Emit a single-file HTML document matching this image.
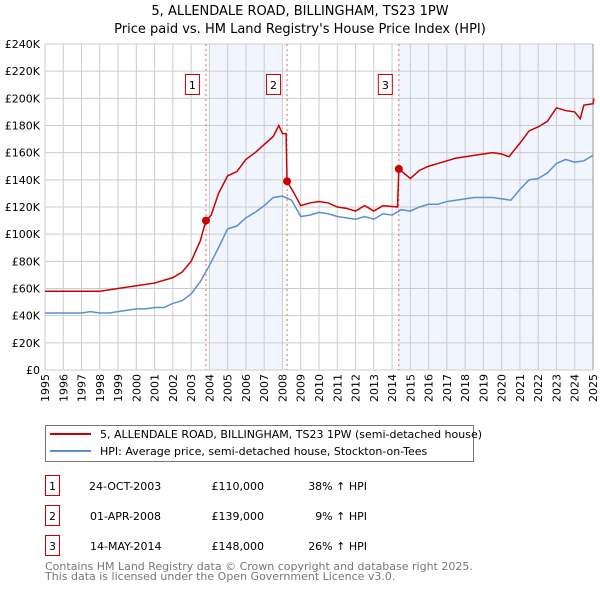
<!DOCTYPE html>
<html><head><meta charset="utf-8"><style>
body{margin:0;background:#fff;font-family:"DejaVu Sans","Liberation Sans",sans-serif;}
svg{display:block}
</style></head><body>
<svg width="600" height="590" xmlns="http://www.w3.org/2000/svg" font-family="DejaVu Sans, Liberation Sans, sans-serif">
<text x="300" y="15" text-anchor="middle" font-size="13">5, ALLENDALE ROAD, BILLINGHAM, TS23 1PW</text>
<text x="300" y="33" text-anchor="middle" font-size="13">Price paid vs. HM Land Registry's House Price Index (HPI)</text>
<g id="plot"></g>
<g>
<rect x="45.5" y="425.5" width="428" height="36" fill="#fff" stroke="#777"/>
<line x1="50" y1="434" x2="91" y2="434" stroke="#cc0000" stroke-width="2"/>
<text x="100" y="438" font-size="11">5, ALLENDALE ROAD, BILLINGHAM, TS23 1PW (semi-detached house)</text>
<line x1="50" y1="451" x2="91" y2="451" stroke="#5b8fd4" stroke-width="2"/>
<text x="100" y="455" font-size="11">HPI: Average price, semi-detached house, Stockton-on-Tees</text>
</g>
<g font-size="11">
<rect x="45.5" y="475.5" width="14" height="20" fill="#fff" stroke="#cc0000"/><text x="52.5" y="490" text-anchor="middle">1</text>
<text x="89" y="490">24-OCT-2003</text><text x="264" y="490" text-anchor="end">£110,000</text><text x="367" y="490" text-anchor="end">38% ↑ HPI</text>
<rect x="45.5" y="505.5" width="14" height="20" fill="#fff" stroke="#cc0000"/><text x="52.5" y="520" text-anchor="middle">2</text>
<text x="90" y="520">01-APR-2008</text><text x="264" y="520" text-anchor="end">£139,000</text><text x="367" y="520" text-anchor="end">9% ↑ HPI</text>
<rect x="45.5" y="535.5" width="14" height="20" fill="#fff" stroke="#cc0000"/><text x="52.5" y="550" text-anchor="middle">3</text>
<text x="90" y="550">14-MAY-2014</text><text x="264" y="550" text-anchor="end">£148,000</text><text x="367" y="550" text-anchor="end">26% ↑ HPI</text>
</g>
<text x="45" y="570" font-size="11" fill="#777">Contains HM Land Registry data © Crown copyright and database right 2025.</text>
<text x="45" y="580" font-size="11" fill="#777">This data is licensed under the Open Government Licence v3.0.</text>
</svg>
<script>
const yTicks=[0,20,40,60,80,100,120,140,160,180,200,220,240];
const years=[1995,1996,1997,1998,1999,2000,2001,2002,2003,2004,2005,2006,2007,2008,2009,2010,2011,2012,2013,2014,2015,2016,2017,2018,2019,2020,2021,2022,2023,2024,2025];
const hpiT=[1995,1995.5,1996,1996.5,1997,1997.5,1998,1998.5,1999,1999.5,2000,2000.5,2001,2001.5,2002,2002.5,2003,2003.5,2004,2004.5,2005,2005.5,2006,2006.5,2007,2007.5,2008,2008.5,2009,2009.5,2010,2010.5,2011,2011.5,2012,2012.5,2013,2013.5,2014,2014.5,2015,2015.5,2016,2016.5,2017,2017.5,2018,2018.5,2019,2019.5,2020,2020.5,2021,2021.5,2022,2022.5,2023,2023.5,2024,2024.5,2025];
const hpiV=[42,42,42,42,42,43,42,42,43,44,45,45,46,46,49,51,56,65,77,90,104,106,112,116,121,127,128,125,113,114,116,115,113,112,111,113,111,115,114,118,117,120,122,122,124,125,126,127,127,127,126,125,133,140,141,145,152,155,153,154,158];
const propT=[1995,1996,1997,1998,1999,2000,2001,2002,2002.5,2003,2003.5,2003.81,2004.1,2004.5,2005,2005.5,2006,2006.5,2007,2007.5,2007.8,2008.0,2008.2,2008.25,2008.6,2009,2009.5,2010,2010.5,2011,2011.5,2012,2012.5,2013,2013.5,2014.3,2014.37,2015,2015.5,2016,2016.5,2017,2017.5,2018,2018.5,2019,2019.5,2020,2020.4,2021,2021.5,2022,2022.5,2023,2023.5,2024,2024.3,2024.5,2025,2025.05];
const propV=[58,58,58,58,60,62,64,68,72,80,95,110,114,130,143,146,155,160,166,172,180,174,174,139,131,121,123,124,123,120,119,117,121,117,121,120,148,141,147,150,152,154,156,157,158,159,160,159,157,167,176,179,183,193,191,190,185,195,196,200];
const saleLabels=["1","2","3"];
const saleT=[2003.81,2008.25,2014.37];
const saleV=[110,139,148];
const shadeStart=[2004.0,2014.37];
const shadeEnd=[2008.0,2025.0];

const X0=45,X1=593,Y0=370,Y1=44;
const x=t=>X0+(t-1995)/30*(X1-X0);
const y=v=>Y0-v/240*(Y0-Y1);
const NS="http://www.w3.org/2000/svg";
const g=document.getElementById('plot');
function mk(tag,attrs,parent){const e=document.createElementNS(NS,tag);for(const k in attrs)e.setAttribute(k,attrs[k]);(parent||g).appendChild(e);return e;}

for(let i=0;i<shadeStart.length;i++){
 const r=mk('rect',{x:x(shadeStart[i]),y:Y1,width:x(shadeEnd[i])-x(shadeStart[i]),height:Y0-Y1,fill:'#eef3fc',opacity:0.8});
 
 
}
yTicks.forEach(v=>{
 mk('line',{x1:X0,x2:X1,y1:y(v),y2:y(v),stroke:'#cccccc','stroke-width':1});
 const t=mk('text',{x:X0-5,y:y(v)+4,'text-anchor':'end','font-size':11});
 t.textContent=v===0?'£0':'£'+v+'K';
 
 
});
years.forEach(yr=>{
 mk('line',{x1:x(yr),x2:x(yr),y1:Y1,y2:Y0,stroke:'#cccccc','stroke-width':1});
 const t=mk('text',{x:0,y:0,'font-size':11,'text-anchor':'end',transform:`translate(${x(yr)+4},${Y0+4}) rotate(-90)`});
 t.textContent=yr;
 
 
});
mk('line',{x1:X1,x2:X1,y1:Y1,y2:Y0,stroke:'#999','stroke-width':1});
saleT.forEach((t,i)=>{
 const l=mk('line',{x1:x(t),x2:x(t),y1:Y1,y2:Y0,stroke:'#e06666','stroke-width':1,'stroke-dasharray':'2,3'});
 
 
 const bx=mk('rect',{x:x(t)-21+0.5,y:74.5,width:14,height:20,fill:'#fff',stroke:'#cc0000'});
 
 
 const tx=mk('text',{x:x(t)-14+0.5,y:89,'text-anchor':'middle','font-size':11});
 tx.textContent=saleLabels[i];
 
 
});
const hp=mk('polyline',{points:hpiT.map((t,i)=>x(t)+','+y(hpiV[i])).join(' '),fill:'none',stroke:'#5b8fd4','stroke-width':1.5});


const pp=mk('polyline',{points:propT.map((t,i)=>x(t)+','+y(propV[i])).join(' '),fill:'none',stroke:'#cc0000','stroke-width':1.5});


saleT.forEach((t,i)=>{
 const c=mk('circle',{cx:x(t),cy:y(saleV[i]),r:4,fill:'#cc0000'});
 
 
});
</script>
</body></html>
